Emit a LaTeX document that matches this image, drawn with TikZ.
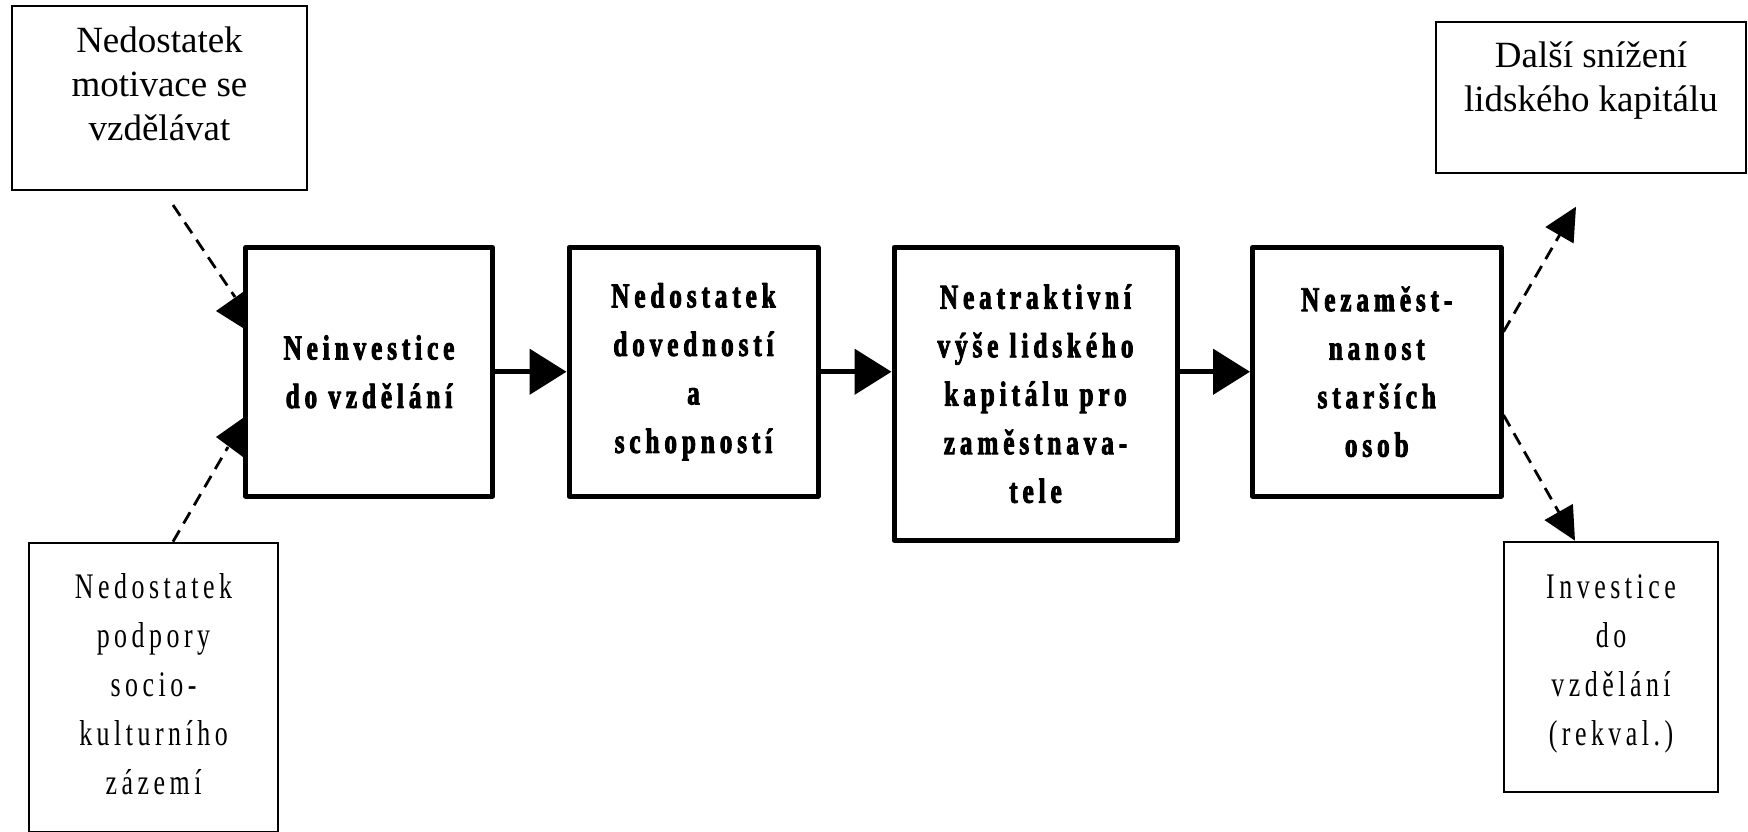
\documentclass[tikz,border=0pt]{standalone}
\usepackage{fontspec}
\usetikzlibrary{arrows.meta,calc}
\setmainfont{Liberation Serif}
\newfontfamily\plainfont{Liberation Serif}
\newfontfamily\widefont{Liberation Serif}[FakeStretch=0.72,LetterSpace=12.5]
\newfontfamily\boldfont{Liberation Serif}[FakeStretch=0.72,LetterSpace=14,FakeBold=2.5]
\newcommand\boxtext[4]{\begin{minipage}[c][#2][t]{#1}\centering\rule{0pt}{#3}\ignorespaces #4\end{minipage}}
\begin{document}
\begin{tikzpicture}[x=1pt,y=-1pt,
  mainbox/.style={draw, line width=5pt, line join=round, align=center, inner sep=0pt,
    font=\boldfont\bfseries\fontsize{35}{48.5}\selectfont},
  sidebox/.style={draw, line width=2.7pt, inner sep=0pt},
  plaintext/.style={font=\plainfont\fontsize{37}{44}\selectfont},
  widetext/.style={font=\widefont\fontsize{36}{49}\selectfont},
  flow/.style={line width=5pt, -{Triangle[length=37pt,width=45pt]}},
  dashline/.style={line width=2.8pt, dash pattern=on 13pt off 8pt},
  dasharrow/.style={dashline, -{Triangle[length=33pt,width=32pt]}}]
\useasboundingbox (0,0) rectangle (1748,831);

% side boxes
\node[sidebox, plaintext] (tl) at (159.5,98)
  {\boxtext{295pt}{184pt}{46pt}{Nedostatek\\motivace se\\vzdělávat}};
\node[sidebox, plaintext] (tr) at (1591,97.5)
  {\boxtext{310pt}{151pt}{45pt}{Další snížení\\lidského kapitálu}};
\node[sidebox, widetext] (bl) at (153.5,687.5)
  {\boxtext{249pt}{289pt}{55pt}{Nedostatek\\podpory\\socio-\\kulturního\\zázemí}};
\node[sidebox, widetext] (br) at (1611,667)
  {\boxtext{214pt}{250pt}{56pt}{Investice\\do\\vzdělání\\(rekval.)}};

% main chain
\node[mainbox, minimum width=247pt, minimum height=248.5pt] (b1) at (369,371.75)
  {Neinvestice\\do vzdělání};
\node[mainbox, minimum width=249pt, minimum height=248.5pt] (b2) at (693.5,371.75)
  {Nedostatek\\dovedností\\a\\schopností};
\node[mainbox, minimum width=283pt, minimum height=292.5pt] (b3) at (1035.5,393.75)
  {Neatraktivní\\výše lidského\\kapitálu pro\\zaměstnava-\\tele};
\node[mainbox, minimum width=248.5pt, minimum height=248.5pt] (b4) at (1376.75,371.75)
  {Nezaměst-\\nanost\\starších\\osob};

\draw[flow] (b1.east) -- (b2.west);
\draw[flow] (b2.east) -- (b2.east -| b3.west);
\draw[flow] (b3.east |- b4.west) -- (b4.west);

% left dashed inputs
\coordinate (ulA) at (173,205);
\coordinate (ulB) at (235,297);
\coordinate (llB) at (228,447);
\draw[dashline] (ulA) -- (ulB);
\fill (b1.west) ++(-27,-60.75) -- ++(27,-19) -- ++(0,36) -- cycle;
\draw[dashline] ([xshift=19.5pt]bl.north) -- (llB);
\fill (b1.west) ++(-27,65.25) -- ++(27,-19) -- ++(0,39) -- cycle;

% right dashed outputs
\coordinate (urTip) at (1576,206.7);
\draw[dasharrow] ([yshift=40pt]b4.east) -- (urTip);
\draw[dasharrow] ([yshift=-43.25pt]b4.east) -- ([xshift=-36pt]br.north);
\end{tikzpicture}
\end{document}
